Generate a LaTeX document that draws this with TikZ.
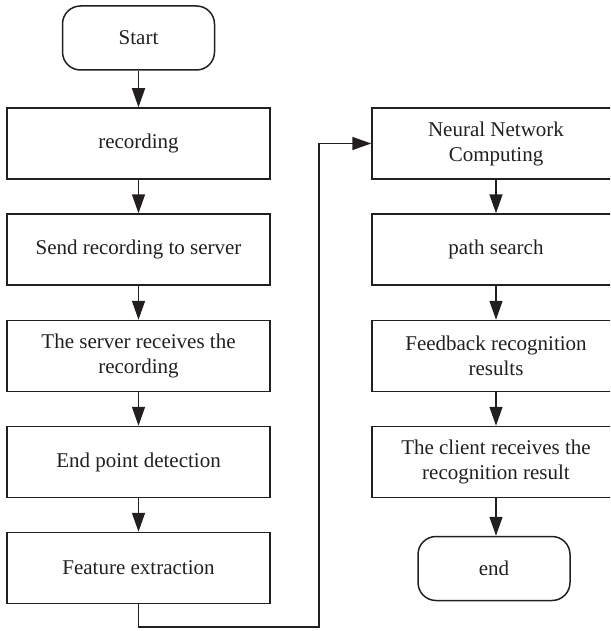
\documentclass[tikz,border=0pt]{standalone}
\usepackage{fontspec}
\setmainfont{Liberation Serif}
\usetikzlibrary{arrows.meta}
\definecolor{ink}{HTML}{231F20}
\begin{document}
\begin{tikzpicture}[x=0.5pt,y=-0.5pt,
  every node/.style={font=\fontsize{10.5}{12.5}\selectfont, text=ink, align=center, inner sep=0pt},
  lbox/.style={draw=ink, line width=0.75pt, minimum width=131.5pt, minimum height=35.5pt},
  rbox/.style={draw=ink, line width=0.75pt, minimum width=124pt, minimum height=35.5pt},
  term/.style={draw=ink, line width=0.75pt, rounded corners=9pt, minimum width=76pt, minimum height=32pt},
  conn/.style={draw=ink, line width=0.75pt, -{Triangle[length=9.5pt,width=6.5pt]}}]
\path[use as bounding box, clip] (0,0) rectangle (610,631);
\node[term] (start) at (138.5,38) {Start};
\node[lbox] (rec) at (138.5,143.5) {recording};
\node[lbox] (send) at (138.5,249.5) {Send recording to server};
\node[lbox] (srv) at (138.5,356) {The server receives the\\recording};
\node[lbox] (epd) at (138.5,462) {End point detection};
\node[lbox] (feat) at (138.5,568) {Feature extraction};
\node[rbox] (nn) at (496,143.5) {Neural Network\\Computing};
\node[rbox] (ps) at (496,249.5) {path search};
\node[rbox] (fb) at (496,356) {Feedback recognition\\results};
\node[rbox] (cl) at (496,462) {The client receives the\\recognition result};
\node[term] (end) at (494,568.5) {end};
\coordinate (c1) at (138.5,627);
\coordinate (c2) at (319,627);
\coordinate (c3) at (319,143.5);
\draw[conn] (start) -- (rec);
\draw[conn] (rec) -- (send);
\draw[conn] (send) -- (srv);
\draw[conn] (srv) -- (epd);
\draw[conn] (epd) -- (feat);
\draw[conn] (feat.south) -- (c1) -- (c2) -- (c3) -- (nn.west);
\draw[conn] (nn) -- (ps);
\draw[conn] (ps) -- (fb);
\draw[conn] (fb) -- (cl);
\draw[conn] (cl.south) -- (cl.south |- end.north);
\end{tikzpicture}
\end{document}
